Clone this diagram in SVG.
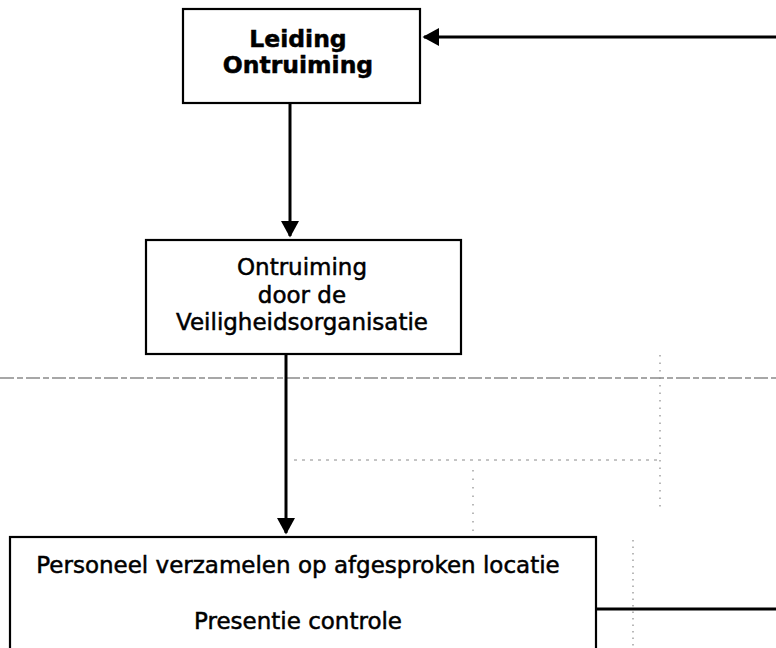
<svg xmlns="http://www.w3.org/2000/svg" width="776" height="648" viewBox="0 0 776 648">
  <style>
    .box { fill: #ffffff; stroke: #000000; stroke-width: 2.2; }
    .conn { stroke: #000000; stroke-width: 3; fill: none; }
    .bg { stroke: #8a8a8a; fill: none; }
    .t { font-family: "DejaVu Sans", Verdana, sans-serif; fill: #000000; text-anchor: middle; stroke: #000000; stroke-width: 0.5; }
    .tb { font-weight: bold; font-size: 23.5px; }
    .tr { font-size: 23px; }
  </style>
  <defs>
    <marker id="arrow" markerWidth="6" markerHeight="6" refX="5" refY="3" orient="auto" markerUnits="strokeWidth">
      <path d="M0,0 L5.5,3 L0,6 Z" fill="#000000"/>
    </marker>
  </defs>
  <rect width="776" height="648" fill="#ffffff"/>

  <g id="background">
    <line class="bg" x1="0" y1="378" x2="776" y2="378" stroke-width="1.4" stroke-dasharray="14 3 6 3"/>
    <line class="bg" x1="633" y1="540" x2="633" y2="648" stroke-width="1.2" stroke-dasharray="1.5 5" stroke="#b0b0b0"/>
    <line class="bg" x1="660" y1="355" x2="660" y2="510" stroke-width="1.2" stroke-dasharray="1.5 6" stroke="#b0b0b0"/>
    <line class="bg" x1="294" y1="460" x2="660" y2="460" stroke-width="1" stroke-dasharray="3 5" stroke="#b8b8b8"/>
    <line class="bg" x1="473" y1="470" x2="473" y2="620" stroke-width="1.2" stroke-dasharray="1.5 7" stroke="#b8b8b8"/>
  </g>

  <g id="connectors">
    <line class="conn" x1="776" y1="37" x2="424" y2="37" marker-end="url(#arrow)"/>
    <line class="conn" x1="290" y1="103" x2="290" y2="236" marker-end="url(#arrow)"/>
    <line class="conn" x1="286" y1="354" x2="286" y2="533" marker-end="url(#arrow)"/>
    <line class="conn" x1="596" y1="609" x2="776" y2="609"/>
  </g>

  <g id="leiding-ontruiming">
    <rect class="box" x="183" y="9" width="237" height="94"/>
    <text class="t tb" x="298" y="47">Leiding</text>
    <text class="t tb" x="298" y="73">Ontruiming</text>
  </g>

  <g id="ontruiming-veiligheidsorganisatie">
    <rect class="box" x="146" y="240" width="315" height="114"/>
    <text class="t tr" x="302" y="275">Ontruiming</text>
    <text class="t tr" x="302" y="303">door de</text>
    <text class="t tr" x="302" y="330">Veiligheidsorganisatie</text>
  </g>

  <g id="personeel-verzamelen">
    <rect class="box" x="10" y="537" width="586" height="125"/>
    <text class="t tr" x="298" y="573">Personeel verzamelen op afgesproken locatie</text>
    <text class="t tr" x="298" y="629">Presentie controle</text>
  </g>
</svg>
